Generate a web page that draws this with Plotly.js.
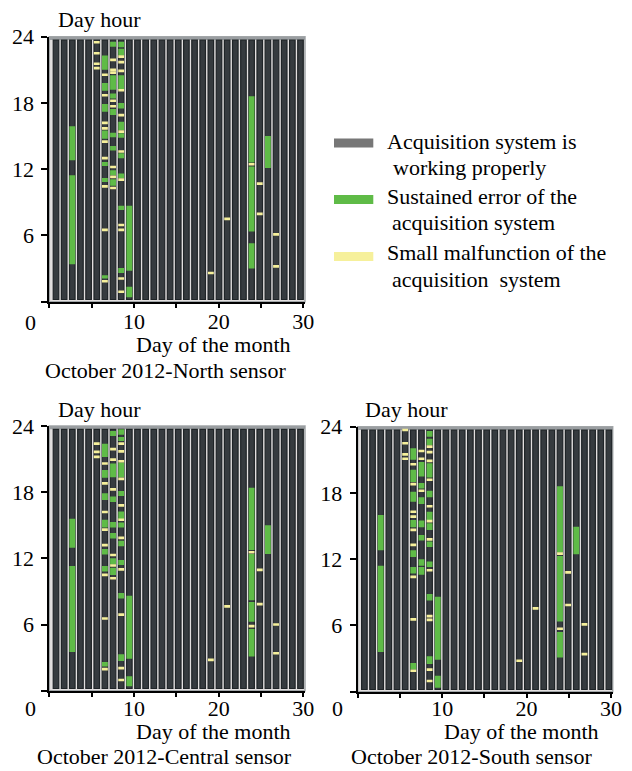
<!DOCTYPE html>
<html>
<head>
<meta charset="utf-8">
<script src="https://cdn.plot.ly/plotly-3.0.1.min.js"></script>
<style>
html,body{margin:0;padding:0;background:#ffffff;}
#chart{width:632px;height:771px;}
</style>
</head>
<body>
<div id="chart"></div>
<script>
// ---------------- data ----------------
const days = [1,2,3,4,5,6,7,8,9,10,11,12,13,14,15,16,17,18,19,20,21,22,23,24,25,26,27,28,29,30,31];
const workFrom = 0.2;   // acquisition working (grey) from hour
const workTo = 23.7;    // to hour

const hourTicks = [0, 6, 12, 18, 24];
const hourTickText = ['', '6', '12', '18', '24'];
const dayTicks = [0, 5, 10, 15, 20, 25, 30];
const dayTickText = ['', '', '10', '', '20', '', '30'];
const cornerLabel = '0';

// North sensor
const northGreenDay  = [3,3, 7,7,7,7,7,7,7, 8,8,8,8,8,8,8,8, 9,9,9,9,9,9,9,9,9,9, 10,10, 25,25,25, 27];
const northGreenFrom = [12.8,3.4, 21.0,19.1,17.2,14.75,12.3,10.85,2.1, 23.1,19.2,18.4,16.9,14.9,13.7,11.45,10.5, 23.05,22.3,19.2,17.5,15.55,14.85,13.0,11.2,8.3,2.6, 2.8,0.4, 12.6,6.35,3.0, 12.1];
const northGreenTo   = [15.9,11.45, 22.3,19.8,17.9,15.5,12.65,11.2,2.4, 23.55,20.5,18.85,17.45,15.3,14.1,11.9,11.1, 23.55,22.9,20.5,18.0,16.3,15.25,13.45,11.6,8.7,3.05, 8.7,1.35, 18.6,12.25,5.3, 15.0];
const northYellowDay  = [6,6,6,6, 7,7,7,7,7,7,7,7,7, 8,8,8,8,8,8,8,8, 9,9,9,9,9,9,9,9,9,9,9,9, 20,22,25,26,26,28,28, 15];
const northYellowHour = [23.5,22.5,21.55,21.15, 20.55,18.7,16.2,15.7,14.5,13.0,10.45,6.5,1.85, 21.9,21.0,20.75,18.2,17.7,12.2,11.3,10.3, 22.2,21.7,20.9,19.15,16.9,15.4,13.6,11.05,6.95,6.5,2.1,0.9, 2.6,7.5,12.45,10.7,7.95,6.1,3.2, 25.9];

// Central sensor
const centralGreenDay  = [3,3, 7,7,7,7,7,7,7, 8,8,8,8,8,8,8, 9,9,9,9,9,9,9,9,9,9, 10,10, 25,25,25,25, 27];
const centralGreenFrom = [12.95,3.5, 21.2,19.3,17.3,14.8,12.35,10.8,2.2, 23.1,19.35,17.1,14.8,13.8,11.45,10.5, 23.2,22.65,19.35,17.65,15.55,14.8,13.1,11.4,8.35,2.7, 2.9,0.4, 12.75,8.2,6.25,3.1, 12.4];
const centralGreenTo   = [15.6,11.3, 22.4,20.0,17.9,15.5,12.85,11.3,2.6, 23.55,20.6,17.6,15.3,14.3,12.0,11.15, 23.7,23.0,20.7,18.1,16.25,15.25,13.6,11.85,8.85,3.3, 8.6,1.3, 18.4,12.4,8.05,5.6, 15.0];
const centralYellowDay  = [6,6,6, 7,7,7,7,7,7,7,7, 8,8,8,8,8,8, 9,9,9,9,9,9,9,9,9,9,9, 20,22,25,25,26,26,28,28];
const centralYellowHour = [22.4,21.65,21.2, 20.6,18.8,16.2,14.6,13.2,10.5,6.55,1.95, 21.9,20.95,18.25,12.3,11.35,10.2, 22.4,21.7,20.8,19.2,16.8,15.5,13.85,11.0,6.9,2.05,0.97, 2.8,7.65,12.55,5.85,10.95,7.85,6.0,3.4];

// South sensor
const southGreenDay  = [3,3, 7,7,7,7,7,7,7, 8,8,8,8,8,8,8, 9,9,9,9,9,9,9,9,9,9, 10,10, 25,25,25, 27];
const southGreenFrom = [12.8,3.6, 21.0,19.0,17.2,14.9,12.2,10.7,2.0, 19.5,18.4,17.0,14.9,13.7,11.4,10.6, 23.1,22.35,19.4,17.6,15.55,14.65,13.1,11.3,8.25,2.5, 2.9,0.36, 12.6,6.35,3.1, 12.45];
const southGreenTo   = [16.0,11.4, 22.05,20.1,18.1,15.55,12.8,11.3,2.6, 20.8,18.9,17.6,15.5,14.2,12.0,11.3, 23.6,22.9,20.7,18.2,16.3,15.25,13.6,11.8,8.85,3.2, 8.6,1.45, 18.6,12.3,5.4, 14.95];
const southYellowDay  = [6,6,6,6, 7,7,7,7,7,7,7,7,7, 8,8,8, 9,9,9,9,9,9,9,9,9,9,9,9, 20,22,25,25,26,26,28,28];
const southYellowHour = [23.7,22.5,21.5,21.1, 20.6,18.8,16.3,15.85,14.65,13.3,10.4,6.55,1.9, 21.8,21.1,18.2, 22.2,21.7,20.9,19.2,16.8,15.45,13.8,11.0,6.85,6.5,2.0,0.97, 2.8,7.55,12.5,5.7,10.8,7.85,6.1,3.4];

const panelTitles = ['October 2012-North sensor', 'October 2012-Central sensor', 'October 2012-South sensor'];
const yAxisTitle = 'Day hour';
const xAxisTitle = 'Day of the month';
const legendNames = ['Acquisition system is', 'working properly', 'Sustained error of the', 'acquisition system', 'Small malfunction of the', 'acquisition&nbsp;&nbsp;system'];

// ---------------- styles / layout ----------------
const W = 632, H = 771;
const FONT = 'Liberation Serif, Times New Roman, serif';
const FS = 22;
const C_WORK = '#363b3f', C_WORK_EDGE = '#1f2427';
const C_GREEN = '#5fbb47';
const C_YELLOW = '#f6f09b';
const C_LEG_GREY = '#777777';
const YEL_H = 0.24;

const px = v => v / W;
const py = v => 1 - v / H;

const geo = [
  {x0:49.3, x1:305.0, yTop:36.7, yBot:301.7, std:-5, dh:[99.3,19.3], xl:[214,344.3], tt:[165,370], zero:[30,322.6]},
  {x0:49.3, x1:305.0, yTop:426.0, yBot:690.7, std:-7, dh:[99.3,409.3], xl:[214,731.5], tt:[164.2,756.5], zero:[30,708.5]},
  {x0:357.7, x1:612.7, yTop:426.7, yBot:691.7, std:-8, dh:[406.7,409.3], xl:[521.3,731.5], tt:[471.7,756.5], zero:[337.5,708.5]}
];
const series = [
  {gd:northGreenDay, gf:northGreenFrom, gt:northGreenTo, yd:northYellowDay, yh:northYellowHour},
  {gd:centralGreenDay, gf:centralGreenFrom, gt:centralGreenTo, yd:centralYellowDay, yh:centralYellowHour},
  {gd:southGreenDay, gf:southGreenFrom, gt:southGreenTo, yd:southYellowDay, yh:southYellowHour}
];

const DAY_PX = 8.15;      // pixel pitch of the day columns in the picture
const FIRST_OFF = 6.7;    // pixel offset of day-1 column centre from the axis origin

const traces = [];
const layout = {
  width: W, height: H,
  margin: {l:0, r:0, t:0, b:0},
  paper_bgcolor: '#ffffff',
  plot_bgcolor: 'rgba(0,0,0,0)',
  barmode: 'overlay',
  showlegend: false,
  font: {family: FONT, size: FS, color: '#000'},
  annotations: [],
  shapes: []
};

geo.forEach((g, i) => {
  const n = i + 1;
  const sfx = n === 1 ? '' : String(n);
  const xa = 'xaxis' + sfx, ya = 'yaxis' + sfx;
  const xr = 'x' + sfx, yr = 'y' + sfx;
  const tn = n + 3;                  // printed "day of the month" axis
  const txa = 'xaxis' + tn, txr = 'x' + tn;

  const r0 = 1 - FIRST_OFF / DAY_PX;
  // axis holding the day columns (its line is the visible bottom axis line)
  layout[xa] = {
    domain: [px(g.x0), px(g.x1)], range: [r0, r0 + (g.x1 - g.x0) / DAY_PX], anchor: yr,
    showticklabels: false, ticks: '',
    showline: true, linecolor: '#000', linewidth: 2,
    showgrid: false, zeroline: false, fixedrange: true
  };
  // printed day-of-month scale with the ticks and labels
  layout[txa] = {
    domain: [px(g.x0), px(g.x1)], range: [0, 30.2], anchor: yr, side: 'bottom',
    tickvals: dayTicks, ticktext: dayTickText,
    ticks: 'outside', ticklen: 5, tickwidth: 2, tickcolor: '#000',
    showline: false, showgrid: false, zeroline: false, fixedrange: true,
    tickfont: {family: FONT, size: FS, color: '#000'},
    ticklabelstandoff: g.std
  };
  layout[ya] = {
    domain: [py(g.yBot), py(g.yTop)], range: [0, 24], anchor: xr,
    tickvals: hourTicks, ticktext: hourTickText,
    ticks: 'outside', ticklen: 6, tickwidth: 2, tickcolor: '#000',
    showline: true, linecolor: '#000', linewidth: 2,
    showgrid: false, zeroline: false, fixedrange: true,
    tickfont: {family: FONT, size: FS, color: '#000'},
    ticklabelstandoff: 3
  };

  // picture background + frame (drawn below the bars)
  layout.shapes.push({type:'rect', xref: xr + ' domain', yref: yr + ' domain', x0: 0, x1: 1, y0: 0, y1: 1,
    fillcolor: '#e2dfdf', line: {color: '#a3a7a9', width: 1.5}, layer: 'below'});
  layout.shapes.push({type:'rect', xref: xr + ' domain', yref: yr, x0: 0, x1: 1, y0: workTo, y1: 24,
    fillcolor: '#9a9ea1', line: {width: 0}, layer: 'below'});

  const s = series[i];
  // marks inside the 0-24 h picture vs. stray marks printed above it
  const inIdx = s.yh.map((h, k) => k).filter(k => s.yh[k] <= 24);
  const outIdx = s.yh.map((h, k) => k).filter(k => s.yh[k] > 24);

  traces.push({
    type: 'bar', xaxis: xr, yaxis: yr, name: 'working',
    x: days, base: days.map(() => workFrom), y: days.map(() => workTo - workFrom),
    width: 0.68, marker: {color: C_WORK, line: {color: C_WORK_EDGE, width: 1.2}},
    hoverinfo: 'skip'
  });
  traces.push({
    type: 'bar', xaxis: xr, yaxis: yr, name: 'sustained error',
    x: s.gd, base: s.gf, y: s.gt.map((t, k) => t - s.gf[k]),
    width: 0.72, marker: {color: C_GREEN, line: {width: 0}},
    hoverinfo: 'skip'
  });
  traces.push({
    type: 'bar', xaxis: xr, yaxis: yr, name: 'small malfunction',
    x: inIdx.map(k => s.yd[k]), base: inIdx.map(k => s.yh[k] - YEL_H / 2), y: inIdx.map(() => YEL_H),
    width: 0.72, marker: {color: C_YELLOW, line: {width: 0}},
    hoverinfo: 'skip'
  });
  if (outIdx.length) {
    traces.push({
      type: 'scatter', mode: 'markers', xaxis: xr, yaxis: yr, name: 'small malfunction (stray)',
      x: outIdx.map(k => s.yd[k]), y: outIdx.map(k => s.yh[k]), cliponaxis: false,
      marker: {symbol: 'line-ew', size: 8, color: C_YELLOW, line: {color: C_YELLOW, width: 5}},
      hoverinfo: 'skip', showlegend: false
    });
  }
  // empty trace that attaches the printed day-of-month scale to the panel
  traces.push({
    type: 'scatter', mode: 'markers', xaxis: txr, yaxis: yr, x: [], y: [],
    hoverinfo: 'skip', showlegend: false
  });

  const ann = (text, x, y, anchor) => layout.annotations.push({
    text: text, xref: 'paper', yref: 'paper', x: px(x), y: py(y),
    xanchor: anchor || 'center', yanchor: 'middle', showarrow: false,
    font: {family: FONT, size: FS, color: '#000'}
  });
  ann(yAxisTitle, g.dh[0], g.dh[1]);
  ann(xAxisTitle, g.xl[0], g.xl[1]);
  ann(panelTitles[i], g.tt[0], g.tt[1]);
  ann(cornerLabel, g.zero[0], g.zero[1]);
});

// legend (drawn manually to match the original layout)
const legColors = [C_LEG_GREY, C_GREEN, C_YELLOW];
const legSwatchY = [[138.5, 147.5], [195, 204], [252, 261]];
legColors.forEach((c, k) => {
  layout.shapes.push({type:'rect', xref:'paper', yref:'paper',
    x0: px(334), x1: px(373.3), y0: py(legSwatchY[k][1]), y1: py(legSwatchY[k][0]),
    fillcolor: c, line: {width: 0}});
});
const legX = [386, 391.7, 386, 391, 386, 391];
const legY = [141, 167.6, 196, 222.6, 252.6, 279.3];
legendNames.forEach((t, k) => {
  layout.annotations.push({
    text: t, xref: 'paper', yref: 'paper', x: px(legX[k] - 1), y: py(legY[k]),
    xanchor: 'left', yanchor: 'middle', showarrow: false,
    font: {family: FONT, size: FS, color: '#000'}
  });
});

Plotly.newPlot('chart', traces, layout, {staticPlot: true, displayModeBar: false});
</script>
</body>
</html>
